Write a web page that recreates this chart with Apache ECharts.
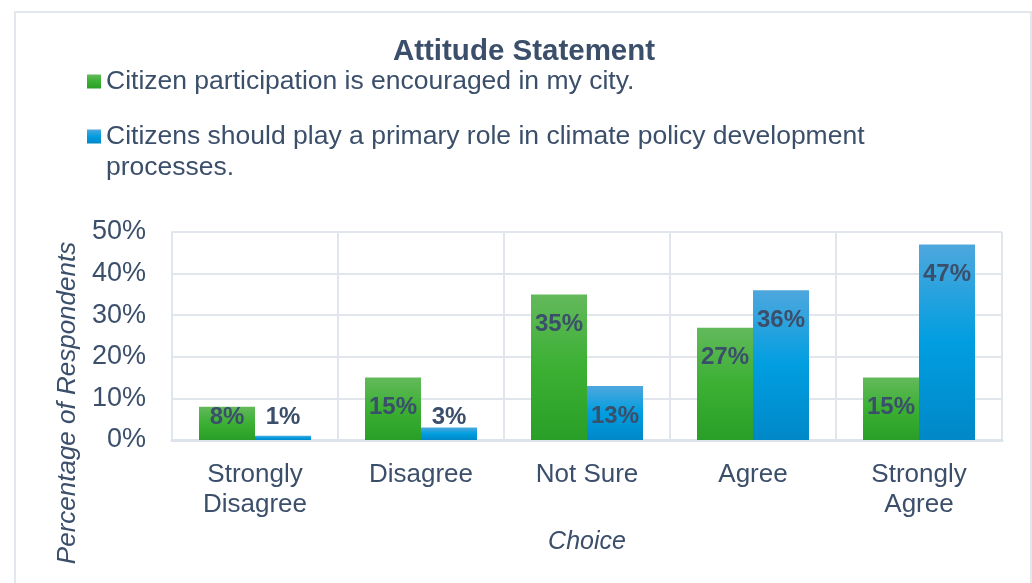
<!DOCTYPE html>
<html>
<head>
<meta charset="utf-8">
<script src="https://cdn.jsdelivr.net/npm/echarts@6/dist/echarts.min.js"></script>
<style>
html,body{margin:0;padding:0;background:#fff;}
#c{width:1032px;height:583px;}
</style>
</head>
<body>
<div id="c"></div>
<script>
var categories = ['Strongly\nDisagree', 'Disagree', 'Not Sure', 'Agree', 'Strongly\nAgree'];
var seriesNames = ['Citizen participation is encouraged in my city.',
  'Citizens should play a primary role in climate policy development processes.'];
var participation = [8, 15, 35, 27, 15];
var primaryRole = [1, 3, 13, 36, 47];
var yTicks = [0, 10, 20, 30, 40, 50];

var txt = '#3b4f6b';
var FONT = '"Liberation Sans", Arial, sans-serif';

function grad(top, mid, bot) {
  return new echarts.graphic.LinearGradient(0, 0, 0, 1, [
    {offset: 0, color: top}, {offset: 0.5, color: mid}, {offset: 1, color: bot}
  ]);
}

function makeData(arr) {
  return arr.map(function (v) {
    if (v < 10) {
      return {value: v, label: {position: 'insideBottom', distance: 11}};
    }
    return {value: v};
  });
}

var labelCfg = {
  show: true,
  position: 'insideTop',
  distance: 18,
  formatter: '{c}%',
  color: txt,
  fontFamily: FONT,
  fontWeight: 'bold',
  fontSize: 24
};

var legendBase = {
  orient: 'vertical',
  left: 82,
  itemWidth: 14,
  itemHeight: 14,
  icon: 'rect',
  textStyle: {color: txt, fontFamily: FONT, fontSize: 26.5, lineHeight: 31}
};

var chart = echarts.init(document.getElementById('c'), null, {renderer: 'canvas'});
chart.setOption({
  backgroundColor: '#fff',
  animation: false,
  graphic: [{
    type: 'rect',
    shape: {x: 15, y: 12, width: 1016, height: 600},
    style: {fill: 'none', stroke: '#e2e7ed', lineWidth: 2},
    silent: true
  }],
  title: {
    text: 'Attitude Statement',
    left: 519,
    top: 32,
    textAlign: 'center',
    textStyle: {color: txt, fontFamily: FONT, fontWeight: 'bold', fontSize: 29.5}
  },
  legend: [
    Object.assign({}, legendBase, {
      top: 61,
      data: [seriesNames[0]]
    }),
    Object.assign({}, legendBase, {
      top: 85,
      data: [seriesNames[1]],
      formatter: function () {
        return '\nCitizens should play a primary role in climate policy development\nprocesses.';
      }
    })
  ],
  grid: {left: 172, right: 30, top: 232, bottom: 143, containLabel: false},
  xAxis: {
    type: 'category',
    data: categories,
    name: 'Choice',
    nameLocation: 'middle',
    nameGap: 90,
    nameTextStyle: {color: txt, fontFamily: FONT, fontStyle: 'italic', fontSize: 25},
    axisLine: {show: true, lineStyle: {color: '#dde3ea', width: 3}},
    axisTick: {show: false},
    splitLine: {show: true, lineStyle: {color: '#e1e6ec', width: 2}},
    axisLabel: {color: txt, fontFamily: FONT, fontSize: 26, lineHeight: 30, margin: 20, interval: 0}
  },
  yAxis: {
    type: 'value',
    min: yTicks[0],
    max: yTicks[yTicks.length - 1],
    interval: 10,
    name: 'Percentage of Respondents',
    nameLocation: 'middle',
    nameGap: 91,
    nameRotate: 90,
    nameTextStyle: {color: txt, fontFamily: FONT, fontStyle: 'italic', fontSize: 26, padding: [0, 134, 0, 0]},
    axisLine: {show: true, lineStyle: {color: '#e1e6ec', width: 2}},
    axisTick: {show: false},
    splitLine: {show: true, lineStyle: {color: '#e1e6ec', width: 2}},
    axisLabel: {color: txt, fontFamily: FONT, fontSize: 27, margin: 26, formatter: '{value}%'}
  },
  series: [
    {
      name: seriesNames[0],
      type: 'bar',
      barWidth: 56,
      barGap: '0%',
      data: makeData(participation),
      itemStyle: {color: grad('#63b95b', '#3bb033', '#2a9f28')},
      label: labelCfg
    },
    {
      name: seriesNames[1],
      type: 'bar',
      barWidth: 56,
      barGap: '0%',
      data: makeData(primaryRole),
      itemStyle: {color: grad('#4ea7dd', '#009ee0', '#0088c8')},
      label: labelCfg
    }
  ]
});
</script>
</body>
</html>
